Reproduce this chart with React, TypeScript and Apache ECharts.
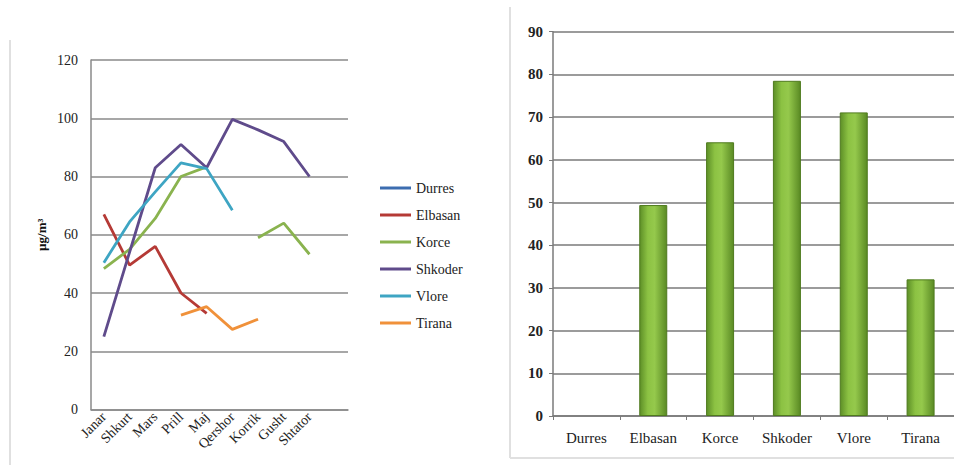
import React, { useEffect, useRef } from "react";
import * as echarts from "echarts";

const months = ["Janar", "Shkurt", "Mars", "Prill", "Maj", "Qershor", "Korrik", "Gusht", "Shtator", ""];
const durres: (number | null)[] = [null, null, null, null, null, null, null, null, null, null];
const elbasan: (number | null)[] = [67, 49.6, 56, 40, 33, null, null, null, null, null];
const korce: (number | null)[] = [48.4, 55, 65.6, 80, 83.3, null, 59, 64, 53.3, null];
const shkoder: (number | null)[] = [25, 54, 83, 91, 83, 99.6, 96, 92, 80, null];
const vlore: (number | null)[] = [50.4, 64.4, 74.7, 84.7, 82.7, 68.4, null, null, null, null];
const tirana: (number | null)[] = [null, null, null, 32.4, 35.3, 27.5, 31, null, null, null];
const leftTicks = [0, 20, 40, 60, 80, 100, 120];

const cities = ["Durres", "Elbasan", "Korce", "Shkoder", "Vlore", "Tirana"];
const averages: (number | null)[] = [null, 49.4, 64.1, 78.5, 71.1, 32];
const rightTicks = [0, 10, 20, 30, 40, 50, 60, 70, 80, 90];

const lineColors = ["#3c6db0", "#b53a36", "#8ab34f", "#5f4b8b", "#3ea5c3", "#f0913a"];
const FONT = "'Liberation Serif', 'Times New Roman', serif";

export default function App() {
  const ref = useRef<HTMLDivElement>(null);
  useEffect(() => {
    if (!ref.current) return;
    const chart = echarts.init(ref.current, null, { renderer: "svg" });
    const lineData = [durres, elbasan, korce, shkoder, vlore, tirana];
    const border = { stroke: "#e0e0e0", lineWidth: 2 };
    const option: any = {
      animation: false,
      backgroundColor: "#ffffff",
      textStyle: { fontFamily: FONT },
      graphic: [
        { type: "line", shape: { x1: 10, y1: 40, x2: 10, y2: 465 }, style: border, silent: true },
        { type: "line", shape: { x1: 510, y1: 7, x2: 510, y2: 458 }, style: border, silent: true },
        { type: "line", shape: { x1: 510, y1: 458, x2: 954, y2: 458 }, style: border, silent: true },
      ],
      legend: {
        orient: "vertical",
        left: 375,
        top: 176,
        data: cities,
        icon: "rect",
        itemWidth: 31,
        itemHeight: 3,
        itemGap: 13,
        textStyle: { fontFamily: FONT, fontSize: 14, color: "#222" },
      },
      grid: [
        { left: 91, top: 60, width: 257, height: 349.5, containLabel: false },
        { left: 553, top: 31.7, width: 402, height: 384.3, containLabel: false },
      ],
      xAxis: [
        {
          type: "category",
          gridIndex: 0,
          data: months,
          boundaryGap: true,
          axisLine: { show: true, lineStyle: { color: "#8a8a8a", width: 1.5 } },
          axisTick: { show: false },
          axisLabel: { rotate: 45, fontFamily: FONT, fontSize: 14, color: "#222", margin: 5, interval: 0 },
        },
        {
          type: "category",
          gridIndex: 1,
          data: cities,
          boundaryGap: true,
          axisLine: { show: true, lineStyle: { color: "#7a7a7a", width: 1.5 } },
          axisTick: { show: true, length: 4, lineStyle: { color: "#7a7a7a" } },
          axisLabel: { fontFamily: FONT, fontSize: 15, color: "#222", margin: 14, interval: 0 },
        },
      ],
      yAxis: [
        {
          type: "value",
          gridIndex: 0,
          min: leftTicks[0],
          max: leftTicks[leftTicks.length - 1],
          interval: 20,
          name: "µg/m³",
          nameLocation: "middle",
          nameGap: 43,
          nameRotate: 90,
          nameTextStyle: { fontFamily: FONT, fontSize: 13, fontWeight: "bold", color: "#111" },
          axisLine: { show: true, lineStyle: { color: "#8a8a8a", width: 1.5 } },
          axisTick: { show: false },
          axisLabel: { fontFamily: FONT, fontSize: 14, color: "#222", margin: 13 },
          splitLine: { show: true, lineStyle: { color: "#8a8a8a", width: 1.5 } },
        },
        {
          type: "value",
          gridIndex: 1,
          min: rightTicks[0],
          max: rightTicks[rightTicks.length - 1],
          interval: 10,
          axisLine: { show: true, lineStyle: { color: "#7a7a7a", width: 1.5 } },
          axisTick: { show: true, length: 4, lineStyle: { color: "#7a7a7a" } },
          axisLabel: { fontFamily: FONT, fontSize: 15, fontWeight: "bold", color: "#222", margin: 10 },
          splitLine: { show: true, lineStyle: { color: "#7a7a7a", width: 1.5 } },
        },
      ],
      series: [
        ...cities.map((name, i) => ({
          name,
          type: "line",
          xAxisIndex: 0,
          yAxisIndex: 0,
          data: lineData[i],
          showSymbol: false,
          symbol: "none",
          connectNulls: false,
          lineStyle: { color: lineColors[i], width: 2.8 },
          itemStyle: { color: lineColors[i] },
        })),
        {
          name: "Mesatarja",
          type: "bar",
          xAxisIndex: 1,
          yAxisIndex: 1,
          data: averages,
          barWidth: 28,
          itemStyle: {
            color: new echarts.graphic.LinearGradient(0, 0, 1, 0, [
              { offset: 0, color: "#5d8f27" },
              { offset: 0.3, color: "#8cc243" },
              { offset: 0.55, color: "#95c94c" },
              { offset: 1, color: "#5a8a24" },
            ]),
            borderColor: "#4f7a1e",
            borderWidth: 1,
          },
        },
      ],
    };
    chart.setOption(option);
    return () => chart.dispose();
  }, []);
  return (
    <div
      ref={ref}
      style={{ position: "fixed", left: 0, top: 0, width: 954, height: 465 }}
    />
  );
}
